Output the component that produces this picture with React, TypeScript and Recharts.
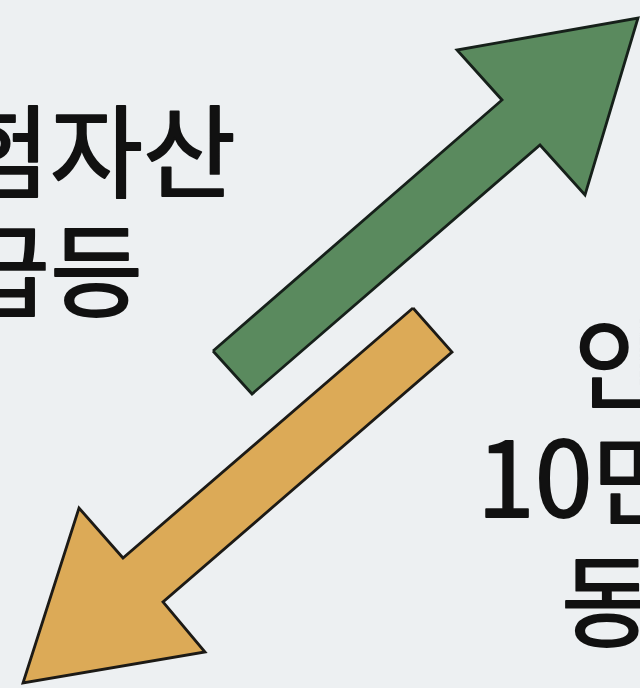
import React from "react";
import { ComposedChart, Line, XAxis, YAxis } from "recharts";

// Outline vertices of each arrow (closed polygons)
const greenArrow = [
  { x: 213, y: 351 },
  { x: 502, y: 100 },
  { x: 457, y: 50 },
  { x: 638, y: 18 },
  { x: 585, y: 195 },
  { x: 540, y: 145 },
  { x: 252, y: 394 },
  { x: 213, y: 351 },
];

const orangeArrow = [
  { x: 413, y: 308 },
  { x: 452, y: 352 },
  { x: 163, y: 602 },
  { x: 205, y: 652 },
  { x: 23, y: 683 },
  { x: 79, y: 508 },
  { x: 123, y: 558 },
  { x: 413, y: 308 },
];

const leftLines = ["위험자산", "급등"];
const rightLines = ["안", "10", "만", "동"];

const W = 640;
const H = 688;
const FONT = '"Noto Sans CJK KR", "Noto Sans", sans-serif';

export default function App() {
  return (
    <div
      style={{
        position: "fixed",
        left: 0,
        top: 0,
        width: W,
        height: H,
        overflow: "hidden",
        background: "#edf0f2",
      }}
    >
      <style>{`
        .arrow-green .recharts-line-curve { fill: #5a8a5e; }
        .arrow-orange .recharts-line-curve { fill: #dcaa57; }
      `}</style>
      <ComposedChart
        width={W}
        height={H}
        margin={{ top: 0, right: 0, bottom: 0, left: 0 }}
      >
        <XAxis type="number" dataKey="x" domain={[0, W]} hide allowDataOverflow />
        <YAxis type="number" dataKey="y" domain={[0, H]} reversed hide allowDataOverflow />
        <Line
          data={orangeArrow}
          dataKey="y"
          className="arrow-orange"
          type="linear"
          stroke="#1c1a16"
          strokeWidth={2.8}
          strokeLinejoin="miter"
          dot={false}
          activeDot={false}
          isAnimationActive={false}
        />
        <Line
          data={greenArrow}
          dataKey="y"
          className="arrow-green"
          type="linear"
          stroke="#16201a"
          strokeWidth={2.8}
          strokeLinejoin="miter"
          dot={false}
          activeDot={false}
          isAnimationActive={false}
        />
      </ComposedChart>
      <svg
        width={W}
        height={H}
        style={{ position: "absolute", left: 0, top: 0, pointerEvents: "none" }}
      >
        <g
          fontFamily={FONT}
          fontWeight={400}
          fill="#111111"
          stroke="#111111"
          strokeWidth={1.8}
          strokeLinejoin="round"
        >
          <text x={50} y={190} fontSize={101} textAnchor="middle">
            {leftLines[0]}
          </text>
          <text x={50} y={309} fontSize={101} textAnchor="middle">
            {leftLines[1]}
          </text>
          <text x={574} y={401} fontSize={100}>
            {rightLines[0]}
          </text>
          <text x={477} y={517} fontSize={104}>
            {rightLines[1]}
            <tspan fontSize={100}>{rightLines[2]}</tspan>
          </text>
          <text x={561} y={639} fontSize={100}>
            {rightLines[3]}
          </text>
        </g>
      </svg>
    </div>
  );
}
